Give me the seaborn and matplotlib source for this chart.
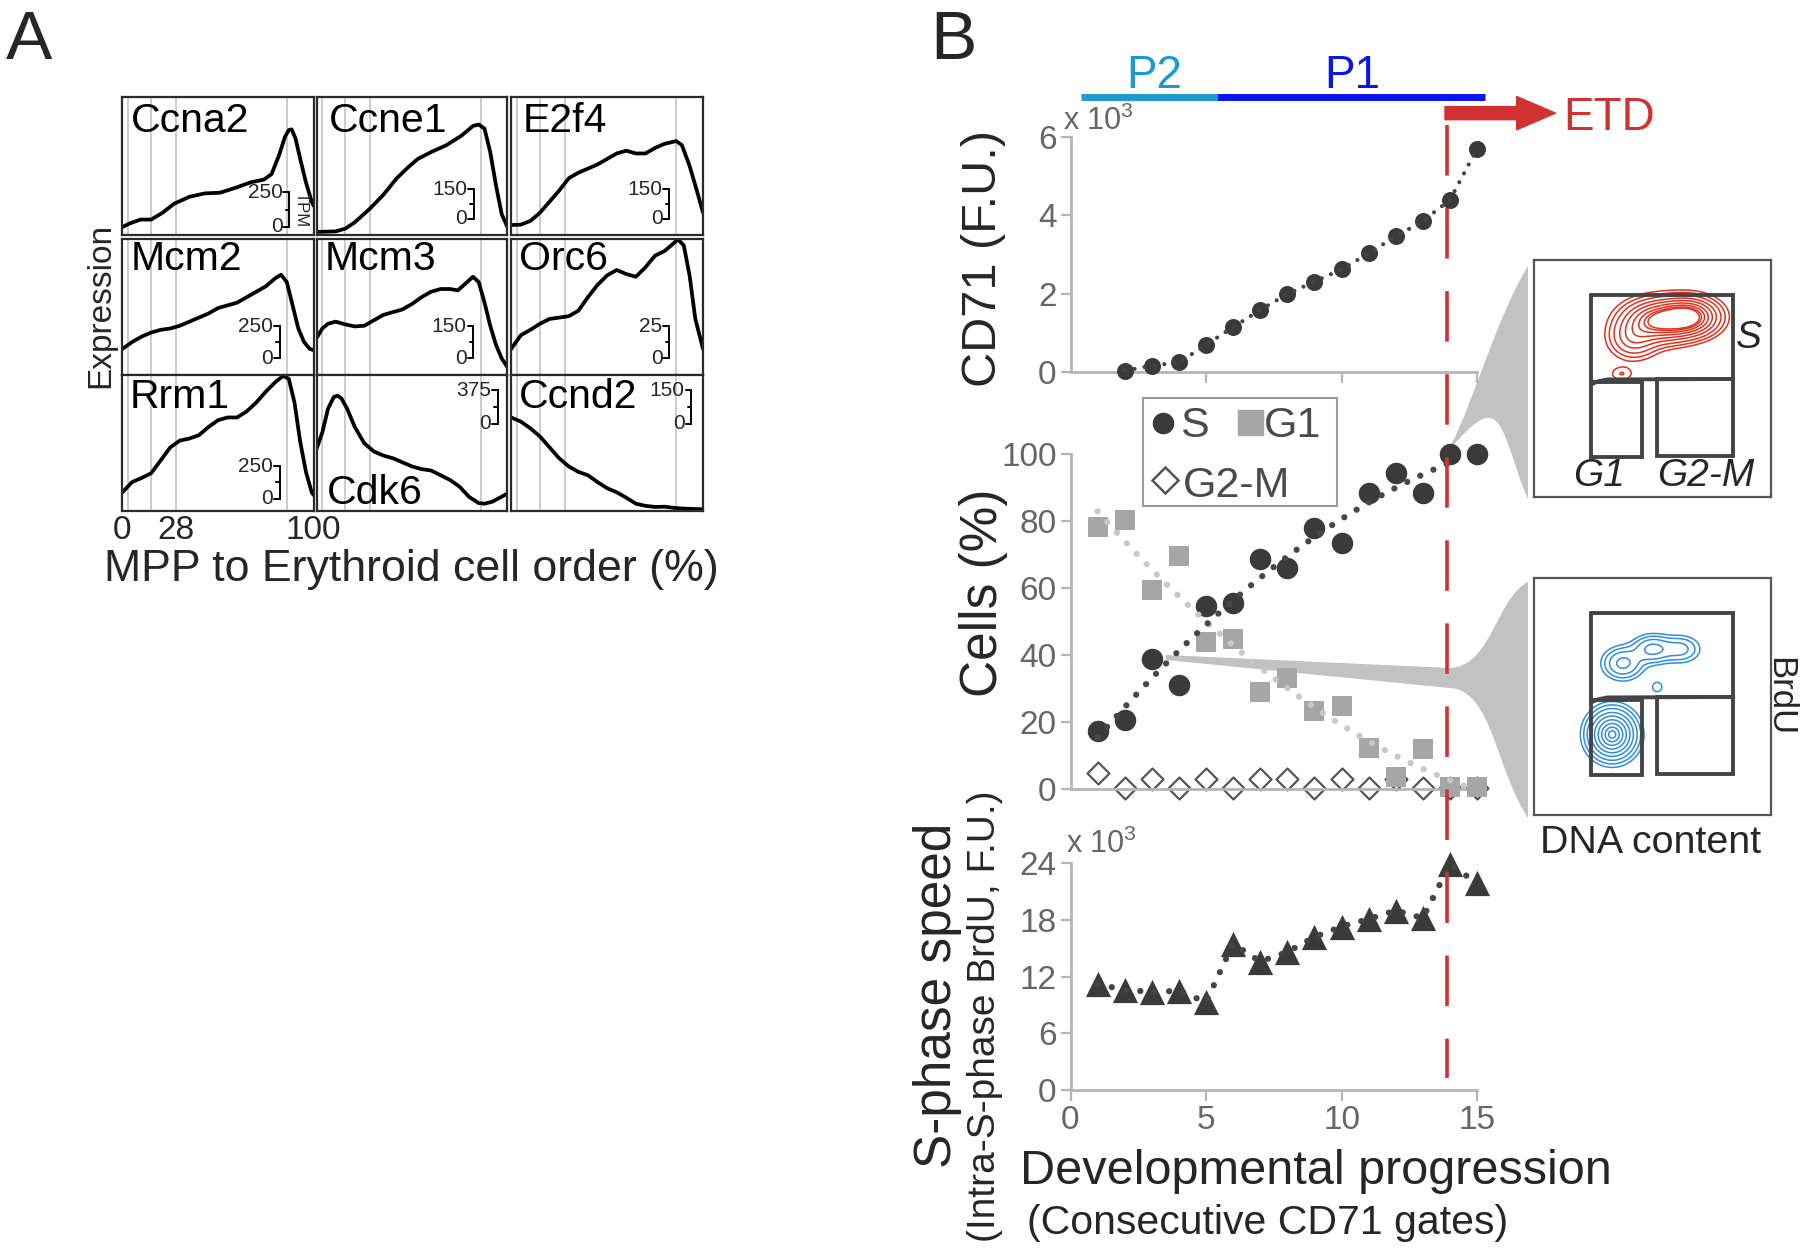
import numpy as np
import pandas as pd
import matplotlib
matplotlib.use("Agg")
import matplotlib.pyplot as plt
import seaborn as sns
from matplotlib.path import Path
from matplotlib.patches import PathPatch, Rectangle
from matplotlib.lines import Line2D

# ---------------- Panel A data (x = MPP->Erythroid cell order %, y = relative expression) ----
gene_names = ["Ccna2", "Ccne1", "E2f4", "Mcm2", "Mcm3", "Orc6", "Rrm1", "Cdk6", "Ccnd2"]
scale_bar_labels = ["250", "150", "150", "250", "150", "25", "250", "375", "150"]
cell_order_ticks = [0, 28, 100]
cell_order_gridlines = [3, 15, 28, 86]

ccna2_x = [0, 3.5, 9.4, 15, 21, 27, 35, 43, 51, 59, 67, 74, 78, 82, 85, 87, 88.5, 90.5, 93, 96, 99, 100]
ccna2_y = [0.056, 0.08, 0.11, 0.11, 0.16, 0.225, 0.275, 0.30, 0.305, 0.34, 0.38, 0.40, 0.44, 0.58,
           0.71, 0.76, 0.765, 0.70, 0.55, 0.38, 0.24, 0.21]
ccne1_x = [0, 10, 15, 20, 28, 35, 42, 48, 53, 60, 68, 76, 82, 85, 88, 91, 94, 97, 100]
ccne1_y = [0.02, 0.024, 0.044, 0.09, 0.19, 0.29, 0.41, 0.49, 0.55, 0.60, 0.65, 0.72, 0.79, 0.80,
           0.77, 0.60, 0.36, 0.15, 0.056]
e2f4_x = [0, 5, 10, 15, 20, 25, 30, 35, 40, 45, 50, 55, 60, 65, 70, 75, 80, 86, 89, 93, 97, 100]
e2f4_y = [0.07, 0.073, 0.10, 0.16, 0.24, 0.32, 0.41, 0.45, 0.48, 0.51, 0.55, 0.59, 0.61, 0.59,
          0.59, 0.63, 0.66, 0.68, 0.65, 0.50, 0.31, 0.16]
mcm2_x = [0, 5, 10, 15, 20, 25, 30, 35, 40, 45, 50, 55, 60, 65, 70, 75, 80, 83, 86, 89, 92, 95, 98, 100]
mcm2_y = [0.19, 0.24, 0.28, 0.31, 0.33, 0.34, 0.36, 0.39, 0.42, 0.45, 0.49, 0.51, 0.53, 0.57,
          0.61, 0.65, 0.71, 0.735, 0.68, 0.51, 0.34, 0.24, 0.19, 0.18]
mcm3_x = [0, 3, 6, 10, 15, 20, 25, 30, 35, 40, 45, 50, 55, 60, 65, 70, 74, 78, 82, 85, 88, 91, 94, 97, 100]
mcm3_y = [0.27, 0.34, 0.375, 0.39, 0.37, 0.355, 0.36, 0.40, 0.44, 0.46, 0.48, 0.52, 0.57, 0.61,
          0.63, 0.63, 0.62, 0.67, 0.72, 0.68, 0.53, 0.36, 0.22, 0.12, 0.056]
orc6_x = [0, 5, 10, 15, 20, 25, 30, 35, 40, 45, 50, 55, 60, 65, 70, 75, 80, 85, 87, 90, 93, 96, 100]
orc6_y = [0.19, 0.29, 0.33, 0.375, 0.41, 0.42, 0.43, 0.47, 0.57, 0.66, 0.73, 0.77, 0.74, 0.72,
          0.79, 0.875, 0.91, 0.97, 0.995, 0.95, 0.73, 0.41, 0.19]
rrm1_x = [0, 5, 10, 15, 20, 25, 30, 35, 40, 45, 50, 55, 60, 65, 70, 75, 80, 84, 87, 90, 93, 96, 99, 100]
rrm1_y = [0.14, 0.215, 0.245, 0.28, 0.375, 0.47, 0.52, 0.535, 0.56, 0.62, 0.67, 0.69, 0.69, 0.735,
          0.80, 0.88, 0.95, 0.995, 0.975, 0.80, 0.51, 0.29, 0.14, 0.12]
cdk6_x = [0, 3, 6, 9, 11, 13, 16, 20, 25, 30, 35, 40, 45, 50, 55, 60, 65, 70, 75, 80, 85, 88, 92, 96, 100]
cdk6_y = [0.46, 0.58, 0.755, 0.84, 0.85, 0.83, 0.755, 0.62, 0.50, 0.44, 0.41, 0.39, 0.36, 0.33,
          0.31, 0.30, 0.265, 0.23, 0.18, 0.105, 0.06, 0.056, 0.07, 0.10, 0.13]
ccnd2_x = [0, 5, 10, 15, 20, 25, 30, 35, 40, 45, 50, 55, 60, 65, 70, 75, 80, 85, 90, 95, 100]
ccnd2_y = [0.69, 0.66, 0.61, 0.55, 0.47, 0.39, 0.33, 0.29, 0.265, 0.215, 0.17, 0.14, 0.10, 0.056,
           0.04, 0.032, 0.034, 0.025, 0.02, 0.017, 0.015]

# ---------------- Panel B data ----------------
gates = [1, 2, 3, 4, 5, 6, 7, 8, 9, 10, 11, 12, 13, 14, 15]
cd71_gates = [2, 3, 4, 5, 6, 7, 8, 9, 10, 11, 12, 13, 14, 15]
cd71_values = [0.04, 0.17, 0.25, 0.70, 1.15, 1.59, 1.99, 2.31, 2.62, 3.03, 3.46, 3.85, 4.39, 5.69]
s_pct = [17.4, 20.6, 38.7, 31.0, 54.7, 55.4, 68.7, 65.9, 78.0, 73.3, 88.3, 94.2, 88.5, 100, 100]
g1_pct = [78.3, 80.3, 59.4, 69.6, 43.8, 44.8, 29.1, 33.2, 23.3, 24.9, 12.1, 3.5, 11.9, 0.5, 0.5]
g2m_pct = [4.7, 0.2, 3.0, 0.2, 3.0, 0.2, 3.0, 3.0, 0.2, 3.0, 0.2, 3.0, 0.2, 0.2, 0.2]
speed_k = [11.2, 10.6, 10.4, 10.5, 9.3, 15.5, 13.6, 14.6, 16.2, 17.3, 18.1, 19.0, 18.2, 23.9, 21.9]
etd_gate = 13.9
p2_range = [0.4, 5.4]
p1_range = [5.4, 15.3]
phase_labels = ["P2", "P1"]
legend_labels = ["S", "G1", "G2-M"]

# contour mixtures for the flow-cytometry insets (u = DNA content, v = BrdU from top)
red_u = [0.53, 0.655, 0.42, 0.37]
red_v = [0.256, 0.24, 0.33, 0.48]
red_su = [0.085, 0.07, 0.06, 0.035]
red_sv = [0.05, 0.045, 0.05, 0.022]
red_w = [1.0, 1.0, 0.35, 0.1]
blue_u = [0.33, 0.375, 0.50, 0.62, 0.52]
blue_v = [0.66, 0.36, 0.30, 0.30, 0.46]
blue_su = [0.056, 0.05, 0.05, 0.05, 0.018]
blue_sv = [0.058, 0.04, 0.035, 0.035, 0.018]
blue_w = [1.0, 0.32, 0.32, 0.2, 0.1]
contour_levels = [0.056, 0.10, 0.17, 0.28, 0.41, 0.57, 0.73, 0.87, 0.965]

# ---------------- style ----------------
sns.set_theme(style="ticks")
plt.rcParams["font.family"] = ["Liberation Sans", "DejaVu Sans"]
plt.rcParams["mathtext.fontset"] = "custom"
plt.rcParams["mathtext.rm"] = "Liberation Sans"
plt.rcParams["mathtext.it"] = "Liberation Sans:italic"

W, H = 1800, 1251
fig = plt.figure(figsize=(18, 12.51), dpi=100)
fig.patch.set_facecolor("white")


def rect(x0, y0, x1, y1):
    return [x0 / W, 1 - y1 / H, (x1 - x0) / W, (y1 - y0) / H]


def ftext(x, y, s, **kw):
    return fig.text(x / W, 1 - y / H, s, **kw)


def fpt(x, y):
    return (x / W, 1 - y / H)


# ================= Panel A =================
curves = [(ccna2_x, ccna2_y), (ccne1_x, ccne1_y), (e2f4_x, e2f4_y),
          (mcm2_x, mcm2_y), (mcm3_x, mcm3_y), (orc6_x, orc6_y),
          (rrm1_x, rrm1_y), (cdk6_x, cdk6_y), (ccnd2_x, ccnd2_y)]
col_left = [122.5, 316.6, 511.2]
col_right = [313.6, 507.4, 703.0]
row_top = [97.0, 238.7, 375.3]
row_bot = [234.7, 374.7, 511.3]
label_pos = [(0.045, 0.745), (0.063, 0.745), (0.06, 0.745),
             (0.045, 0.77), (0.043, 0.77), (0.04, 0.77),
             (0.035, 0.76), (0.053, 0.054), (0.04, 0.76)]
bracket_pos = [(0.872, 0.31, 0.056), (0.824, 0.33, 0.116), (0.824, 0.33, 0.116),
               (0.823, 0.358, 0.12), (0.822, 0.358, 0.12), (0.824, 0.358, 0.12),
               (0.823, 0.333, 0.093), (0.95, 0.89, 0.645), (0.94, 0.89, 0.645)]

for i, name in enumerate(gene_names):
    r, c = divmod(i, 3)
    ax = fig.add_axes(rect(col_left[c], row_top[r], col_right[c], row_bot[r]))
    for gx in cell_order_gridlines:
        ax.axvline(gx, color="#c4c4c4", lw=1.2, zorder=0)
    xs, ys = curves[i]
    sns.lineplot(x=xs, y=ys, ax=ax, color="black", lw=2.7, sort=False, estimator=None, errorbar=None)
    ax.set_xlim(0, 100)
    ax.set_ylim(0, 1)
    ax.set_yticks([])
    ax.set_xlabel("")
    ax.set_ylabel("")
    for sp in ax.spines.values():
        sp.set_visible(True)
        sp.set_color("#2a2a2a")
        sp.set_linewidth(1.6)
    if r == 2 and c == 0:
        ax.set_xticks(cell_order_ticks)
        ax.set_xticklabels([str(t) for t in cell_order_ticks], fontsize=24)
        ax.tick_params(axis="x", length=0, pad=3)
    else:
        ax.set_xticks([])
    lx, ly = label_pos[i]
    ax.text(lx, ly, name, transform=ax.transAxes, fontsize=29.5, ha="left", va="baseline", color="black")
    bx, btop, bbot = bracket_pos[i]
    ax.plot([bx - 0.03, bx, bx, bx - 0.03], [btop, btop, bbot, bbot], color="black", lw=1.4,
            transform=ax.transAxes, solid_joinstyle="miter")
    ax.plot([bx - 0.018, bx], [(btop + bbot) / 2] * 2, color="black", lw=1.4, transform=ax.transAxes)
    ax.text(bx - 0.035, btop, scale_bar_labels[i], transform=ax.transAxes, ha="right", va="center", fontsize=15)
    ax.text(bx - 0.035, bbot, "0", transform=ax.transAxes, ha="right", va="center", fontsize=15)
    if i == 0:
        ax.text(bx + 0.065, (btop + bbot) / 2, "TPM", transform=ax.transAxes, rotation=270,
                ha="center", va="center", fontsize=12)

ftext(29, 41, "A", fontsize=50, ha="center", va="center")
ftext(101, 305, "Expression", fontsize=24, rotation=90, ha="center", va="center")
ftext(411, 581, "MPP to Erythroid cell order (%)", fontsize=32.2, ha="center", va="baseline")

# ================= Panel B =================
tick_gray = "#b5b5b5"
lab_gray = "#666666"
dark = "#3a3a3a"
red = "#d03232"
dot_style = (0, (0.01, 2.3))


def style_b(ax, ymax, yticks, xticks, xlabels):
    ax.set_xlim(0, 15)
    ax.set_ylim(0, ymax)
    ax.set_xlabel("")
    ax.set_ylabel("")
    ax.patch.set_alpha(0)
    sns.despine(ax=ax)
    for s in ("left", "bottom"):
        ax.spines[s].set_color(tick_gray)
        ax.spines[s].set_linewidth(2.0)
    ax.set_yticks(yticks)
    ax.set_yticklabels([str(t) for t in yticks])
    ax.tick_params(axis="y", length=7, width=1.6, color=tick_gray, labelcolor=lab_gray, labelsize=24, pad=3)
    ax.set_xticks(xticks)
    if xlabels:
        ax.set_xticklabels([str(t) for t in xticks])
    else:
        ax.set_xticklabels([])
    ax.tick_params(axis="x", length=8, width=1.6, color=tick_gray, labelcolor=lab_gray, labelsize=24, pad=3)


# --- CD71 panel
ax1 = fig.add_axes(rect(1070.5, 136.7, 1477, 372.3))
df_cd71 = pd.DataFrame({"gate": cd71_gates, "cd71": cd71_values})
sns.scatterplot(data=df_cd71, x="gate", y="cd71", ax=ax1, color=dark, s=150, linewidth=0,
                zorder=3, clip_on=False, legend=False)
sns.lineplot(data=df_cd71, x="gate", y="cd71", ax=ax1, color="#444444", lw=3.0, errorbar=None,
             linestyle=(0, (0.01, 2.4)), dash_capstyle="round", zorder=4)
style_b(ax1, 6, [0, 2, 4, 6], [5, 10, 15], False)

# phase bars, arrow and labels
ax1.plot(p2_range, [7.0, 7.0], color="#1b9ad2", lw=5, solid_capstyle="butt", clip_on=False)
ax1.plot(p1_range, [7.0, 7.0], color="#0a14f0", lw=5, solid_capstyle="butt", clip_on=False)
ax1.text(3.08, 7.24, phase_labels[0], color="#1b9ad2", fontsize=33, ha="center", va="baseline", clip_on=False)
ax1.text(10.38, 7.24, phase_labels[1], color="#0a14f0", fontsize=33, ha="center", va="baseline", clip_on=False)
ax1.annotate("", xy=(17.9, 6.6), xytext=(etd_gate - 0.08, 6.6), annotation_clip=False,
             arrowprops=dict(arrowstyle="simple,head_length=1.4,head_width=1.2,tail_width=0.47",
                             mutation_scale=20, color=red, shrinkA=0, shrinkB=0))
ax1.text(18.17, 6.17, "ETD", color=red, fontsize=33, ha="left", va="baseline", clip_on=False)
ftext(1063, 130, r"x 10$^3$", fontsize=22, color=lab_gray, ha="left", va="baseline")
ftext(983, 258, "CD71 (F.U.)", fontsize=35, rotation=90, ha="center", va="center")

# --- Cells panel
ax2 = fig.add_axes(rect(1070.5, 454, 1477, 789))
df_cells = pd.DataFrame({"gate": gates, "S": s_pct, "G1": g1_pct, "G2M": g2m_pct})
sns.scatterplot(data=df_cells, x="gate", y="G2M", ax=ax2, marker="D", facecolor="white",
                edgecolor="#555555", linewidth=1.6, s=125, zorder=2, clip_on=False, legend=False)
sns.scatterplot(data=df_cells, x="gate", y="G1", ax=ax2, marker="s", color="#a6a6a6", s=215,
                linewidth=0, zorder=3, clip_on=False, legend=False)
sns.scatterplot(data=df_cells, x="gate", y="S", ax=ax2, marker="o", color=dark, s=240,
                linewidth=0, zorder=4, clip_on=False, legend=False)

fit_s = np.polyfit(gates, s_pct, 2)
fit_g1 = np.polyfit(gates, g1_pct, 2)
xs_s = np.linspace(1, 14, 80)
xs_g1 = np.linspace(1, 14.7, 80)
df_trend_s = pd.DataFrame({"gate": xs_s, "pct": np.polyval(fit_s, xs_s)})
df_trend_g1 = pd.DataFrame({"gate": xs_g1, "pct": np.clip(np.polyval(fit_g1, xs_g1), 0, None)})
sns.lineplot(data=df_trend_g1, x="gate", y="pct", ax=ax2, color="#c8c8c8", lw=4.5, errorbar=None,
             linestyle=dot_style, dash_capstyle="round", zorder=5)
sns.lineplot(data=df_trend_s, x="gate", y="pct", ax=ax2, color="#474747", lw=4.5, errorbar=None,
             linestyle=dot_style, dash_capstyle="round", zorder=5)
style_b(ax2, 100, [0, 20, 40, 60, 80, 100], [], False)
ax2.tick_params(axis="x", length=0)
ftext(983, 593, "Cells (%)", fontsize=37, rotation=90, ha="center", va="center")

# manual legend: "S  G1" on the first row, "G2-M" below
fig.add_artist(Rectangle(fpt(1143, 506), (1337 - 1143) / W, (506 - 398) / H, transform=fig.transFigure,
                         facecolor="white", edgecolor="#9a9a9a", lw=1.5, zorder=7))
fig.add_artist(Line2D([1163 / W], [1 - 423 / H], transform=fig.transFigure, marker="o", ls="none",
                      color=dark, markersize=14.5, zorder=8))
fig.add_artist(Line2D([1250 / W], [1 - 422 / H], transform=fig.transFigure, marker="s", ls="none",
                      color="#a6a6a6", markersize=18, zorder=8))
fig.add_artist(Line2D([1165 / W], [1 - 480 / H], transform=fig.transFigure, marker="D", ls="none",
                      markerfacecolor="white", markeredgecolor="#555555", markeredgewidth=1.8,
                      markersize=13, zorder=8))
ftext(1180, 437, legend_labels[0], fontsize=31, color="#4a4a4a", ha="left", va="baseline", zorder=8)
ftext(1264, 437, legend_labels[1], fontsize=31, color="#4a4a4a", ha="left", va="baseline", zorder=8)
ftext(1183, 497, legend_labels[2], fontsize=31, color="#4a4a4a", ha="left", va="baseline", zorder=8)

# --- S-phase speed panel
ax3 = fig.add_axes(rect(1070.5, 863.3, 1477, 1090))
df_speed = pd.DataFrame({"gate": gates, "speed": speed_k})
sns.scatterplot(data=df_speed, x="gate", y="speed", ax=ax3, marker="^", color=dark, s=330,
                linewidth=0, zorder=3, clip_on=False, legend=False)
sns.lineplot(data=df_speed, x="gate", y="speed", ax=ax3, color="#444444", lw=4.5, errorbar=None,
             linestyle=dot_style, dash_capstyle="round", zorder=4)
style_b(ax3, 24, [0, 6, 12, 18, 24], [0, 5, 10, 15], True)
ftext(1066, 853, r"x 10$^3$", fontsize=22, color=lab_gray, ha="left", va="baseline")
ftext(938, 995, "S-phase speed", fontsize=37, rotation=90, ha="center", va="center")
ftext(985, 1016, "(Intra-S-phase BrdU, F.U.)", fontsize=28, rotation=90, ha="center", va="center")
ftext(1316, 1171, "Developmental progression", fontsize=35, ha="center", va="center")
ftext(1268, 1223, "(Consecutive CD71 gates)", fontsize=29.5, ha="center", va="center")
ftext(953, 41, "B", fontsize=50, ha="center", va="center")

# --- red ETD dashed line spanning the three panels
xf = fig.transFigure.inverted().transform(ax2.transData.transform((etd_gate, 0)))[0]
fig.add_artist(Line2D([xf, xf], [1 - 125 / H, 1 - 1078 / H], transform=fig.transFigure,
                      color=red, lw=2.6, linestyle=(0, (14, 9)), zorder=6))


# --- grey callout wedges
def wedge(points_codes):
    verts = [fpt(x, y) for (x, y), _ in points_codes]
    codes = [c for _, c in points_codes]
    return PathPatch(Path(verts, codes), facecolor="#c2c2c2", edgecolor="none",
                     transform=fig.transFigure, zorder=-1)


M, C4, L, CL = Path.MOVETO, Path.CURVE4, Path.LINETO, Path.CLOSEPOLY
top_wedge = [((1449, 449), M),
             ((1475, 400), C4), ((1495, 320), C4), ((1528, 266), C4),
             ((1528, 499), L),
             ((1514, 470), C4), ((1506, 420), C4), ((1490, 418), C4),
             ((1476, 416), C4), ((1460, 440), C4), ((1449, 449), C4),
             ((1449, 449), CL)]
bot_wedge = [((1166, 655), M),
             ((1450, 668), L),
             ((1492, 666), C4), ((1496, 598), C4), ((1528, 582), C4),
             ((1528, 818), L),
             ((1496, 770), C4), ((1492, 690), C4), ((1450, 688), C4),
             ((1166, 660), L),
             ((1166, 655), CL)]
fig.add_artist(wedge(top_wedge))
fig.add_artist(wedge(bot_wedge))

# --- flow-cytometry insets
uu, vv = np.meshgrid(np.linspace(0, 1, 300), np.linspace(0, 1, 300))


def mixture(us, vs, sus, svs, ws):
    d = np.zeros_like(uu)
    for cu, cv, su, sv, w in zip(us, vs, sus, svs, ws):
        d += w * np.exp(-0.5 * ((uu - cu) / su) ** 2 - 0.5 * ((vv - cv) / sv) ** 2)
    return d


def draw_inset(box, dens, color):
    axi = fig.add_axes(rect(*box))
    axi.set_xlim(0, 1)
    axi.set_ylim(1, 0)
    axi.set_xticks([])
    axi.set_yticks([])
    for sp in axi.spines.values():
        sp.set_visible(True)
        sp.set_color("#555555")
        sp.set_linewidth(1.6)
    axi.contour(uu, vv, dens, levels=contour_levels, colors=color, linewidths=1.1)
    gate_kw = dict(color="#444444", lw=2.8, solid_joinstyle="miter")
    axi.plot([0.241, 0.841, 0.841], [0.146, 0.146, 0.502], **gate_kw)
    axi.plot([0.241, 0.241], [0.146, 0.525], **gate_kw)
    axi.plot([0.241, 0.27, 0.31, 0.841], [0.525, 0.512, 0.504, 0.502], **gate_kw)
    axi.plot([0.241, 0.454, 0.454, 0.241, 0.241], [0.514, 0.514, 0.83, 0.83, 0.514], **gate_kw)
    axi.plot([0.517, 0.841, 0.841, 0.517, 0.517], [0.502, 0.502, 0.825, 0.825, 0.502], **gate_kw)
    return axi


draw_inset((1534, 260, 1771, 497), mixture(red_u, red_v, red_su, red_sv, red_w), "#e0301e")
draw_inset((1534, 578, 1771, 815), mixture(blue_u, blue_v, blue_su, blue_sv, blue_w), "#2d8de0")
ftext(1749, 338, "S", fontsize=28, style="italic", ha="center", va="center")
ftext(1599, 476, "G1", fontsize=28, style="italic", ha="center", va="center")
ftext(1706, 476, "G2-M", fontsize=28, style="italic", ha="center", va="center")
ftext(1780, 697, "BrdU", fontsize=25, rotation=270, ha="center", va="center")
ftext(1651, 843, "DNA content", fontsize=28.4, ha="center", va="center")

fig.savefig("out.png", dpi=100, facecolor="white")
